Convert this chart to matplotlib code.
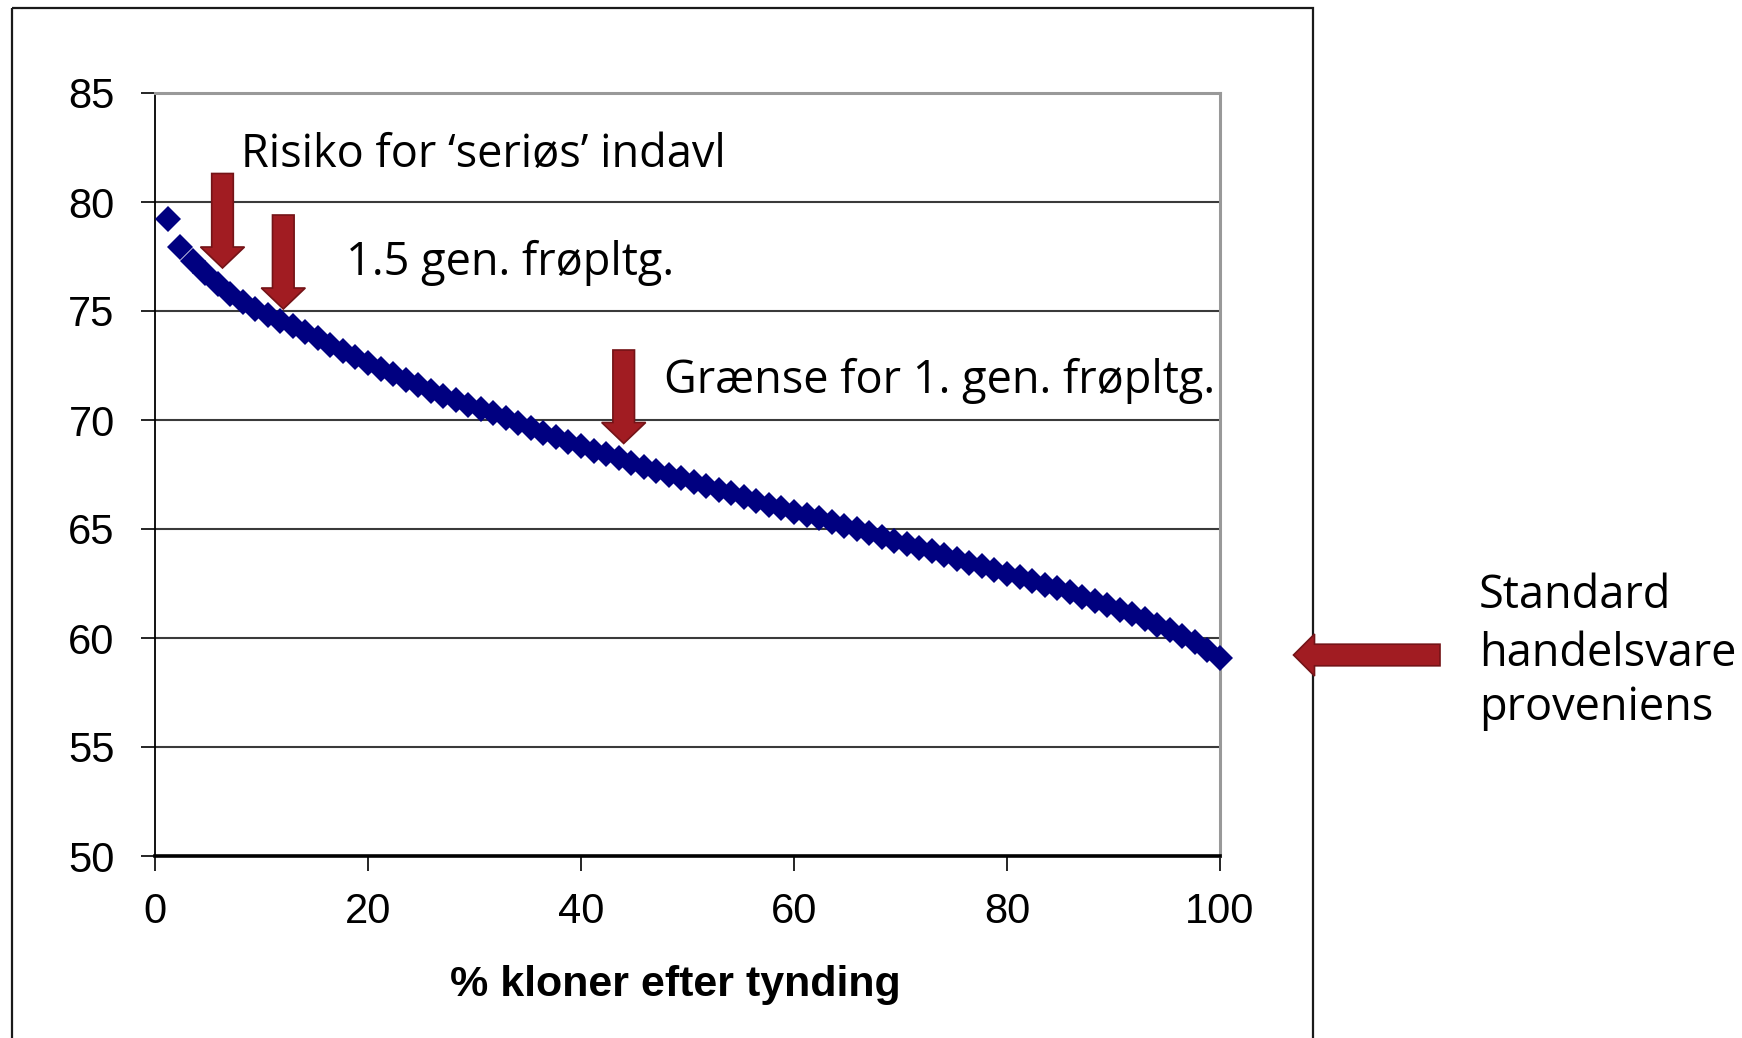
import matplotlib
matplotlib.use("Agg")
import matplotlib.pyplot as plt
from matplotlib.patches import Polygon, Rectangle
from matplotlib.transforms import Affine2D

# ---------------- data ----------------
pct_clones = [1.18, 2.35, 3.53, 4.71, 5.88, 7.06, 8.24, 9.41, 10.59, 11.76,
              12.94, 14.12, 15.29, 16.47, 17.65, 18.82, 20.00, 21.18, 22.35, 23.53,
              24.71, 25.88, 27.06, 28.24, 29.41, 30.59, 31.76, 32.94, 34.12, 35.29,
              36.47, 37.65, 38.82, 40.00, 41.18, 42.35, 43.53, 44.71, 45.88, 47.06,
              48.24, 49.41, 50.59, 51.76, 52.94, 54.12, 55.29, 56.47, 57.65, 58.82,
              60.00, 61.18, 62.35, 63.53, 64.71, 65.88, 67.06, 68.24, 69.41, 70.59,
              71.76, 72.94, 74.12, 75.29, 76.47, 77.65, 78.82, 80.00, 81.18, 82.35,
              83.53, 84.71, 85.88, 87.06, 88.24, 89.41, 90.59, 91.76, 92.94, 94.12,
              95.29, 96.47, 97.65, 98.82, 100.00]
values = [79.20, 77.95, 77.30, 76.75, 76.25, 75.80, 75.40, 75.08, 74.80, 74.55,
          74.30, 74.03, 73.75, 73.45, 73.15, 72.87, 72.60, 72.35, 72.10, 71.85,
          71.60, 71.35, 71.10, 70.90, 70.70, 70.50, 70.30, 70.07, 69.85, 69.62,
          69.40, 69.20, 69.00, 68.80, 68.60, 68.43, 68.25, 68.05, 67.85, 67.68,
          67.50, 67.33, 67.15, 66.98, 66.80, 66.63, 66.45, 66.28, 66.10, 65.95,
          65.80, 65.65, 65.50, 65.33, 65.15, 64.98, 64.80, 64.63, 64.45, 64.30,
          64.15, 63.98, 63.80, 63.63, 63.45, 63.28, 63.10, 62.95, 62.80, 62.63,
          62.45, 62.28, 62.10, 61.90, 61.70, 61.50, 61.30, 61.08, 60.85, 60.60,
          60.35, 60.08, 59.80, 59.45, 59.07]
x_ticks = [0, 20, 40, 60, 80, 100]
y_ticks = [50, 55, 60, 65, 70, 75, 80, 85]
x_label = "% kloner efter tynding"
notes = ["Risiko for \u2018seri\u00f8s\u2019 indavl", "1.5 gen. fr\u00f8pltg.",
         "Gr\u00e6nse for 1. gen. fr\u00f8pltg."]
side_note = ["Standard", "handelsvare", "proveniens"]

# ---------------- figure ----------------
W, H = 1742, 1038
fig = plt.figure(figsize=(W / 100, H / 100), dpi=100)
fig.patch.set_facecolor("white")
px = Affine2D().scale(1 / W, -1 / H).translate(0, 1) + fig.transFigure

# outer frame of the embedded chart
fig.patches.append(Rectangle((12, 8), 1301, 1060, transform=px, fill=False,
                             edgecolor="#1a1a1a", linewidth=1.6, zorder=0))

ax = fig.add_axes([155 / W, 1 - 856 / H, (1220 - 155) / W, (856 - 93) / H])
ax.set_xlim(0, 100)
ax.set_ylim(50, 85)
ax.set_xticks(x_ticks)
ax.set_yticks(y_ticks)
tick_font = {"family": "Liberation Sans", "size": 30}
ax.set_xticklabels([str(t) for t in x_ticks], fontdict=tick_font)
ax.set_yticklabels([str(t) for t in y_ticks], fontdict=tick_font)
ax.tick_params(axis="y", direction="out", length=10, width=1.2, pad=19, color="black")
ax.tick_params(axis="x", direction="out", length=11, width=1.2, pad=15, color="black")

for v in y_ticks[1:-1]:
    ax.axhline(v, color="#3a3a3a", linewidth=1.5, zorder=1)
ax.spines["top"].set_color("#999999")
ax.spines["top"].set_linewidth(2.2)
ax.spines["right"].set_color("#999999")
ax.spines["right"].set_linewidth(2.2)
ax.spines["left"].set_color("black")
ax.spines["left"].set_linewidth(1.3)
ax.spines["bottom"].set_color("black")
ax.spines["bottom"].set_linewidth(2.6)

ax.plot(pct_clones, values, linestyle="none", marker="D", markersize=13.5,
        markerfacecolor="#000080", markeredgewidth=0, clip_on=False, zorder=3)

ax.set_xlabel(x_label, fontsize=31, fontweight="bold", family="Liberation Sans")
ax.xaxis.label.set_va("baseline")
ax.xaxis.set_label_coords((675 - 155) / (1220 - 155), -(996 - 856) / (856 - 93))

# ---------------- annotations ----------------
fill_c, edge_c = "#A11C22", "#741317"

def down_arrow(tx, ty, top):
    sw, hw, hl = 10.8, 22, 21
    pts = [(tx - sw, top), (tx + sw, top), (tx + sw, ty - hl), (tx + hw, ty - hl),
           (tx, ty), (tx - hw, ty - hl), (tx - sw, ty - hl)]
    fig.patches.append(Polygon(pts, closed=True, transform=px, facecolor=fill_c,
                               edgecolor=edge_c, linewidth=1.2, zorder=5))

def left_arrow(tx, ty, right):
    sw, hw, hl = 10.8, 21, 21
    pts = [(right, ty - sw), (right, ty + sw), (tx + hl, ty + sw), (tx + hl, ty + hw),
           (tx, ty), (tx + hl, ty - hw), (tx + hl, ty - sw)]
    fig.patches.append(Polygon(pts, closed=True, transform=px, facecolor=fill_c,
                               edgecolor=edge_c, linewidth=1.2, zorder=5))

down_arrow(222.5, 268, 173.5)
down_arrow(283.3, 309, 215)
down_arrow(623.7, 443.5, 350)
left_arrow(1293.5, 655, 1440)

note_font = dict(family="Open Sans", fontsize=32.5, color="black", va="baseline", ha="left")
for (x0, y0), s in zip([(241, 167), (346, 275), (664, 393)], notes):
    fig.text(x0, y0, s, transform=px, **note_font)
for y0, s in zip([608, 666, 720], side_note):
    fig.text(1479, y0, s, transform=px, **note_font)

fig.savefig("out.png", dpi=100, facecolor="white")
